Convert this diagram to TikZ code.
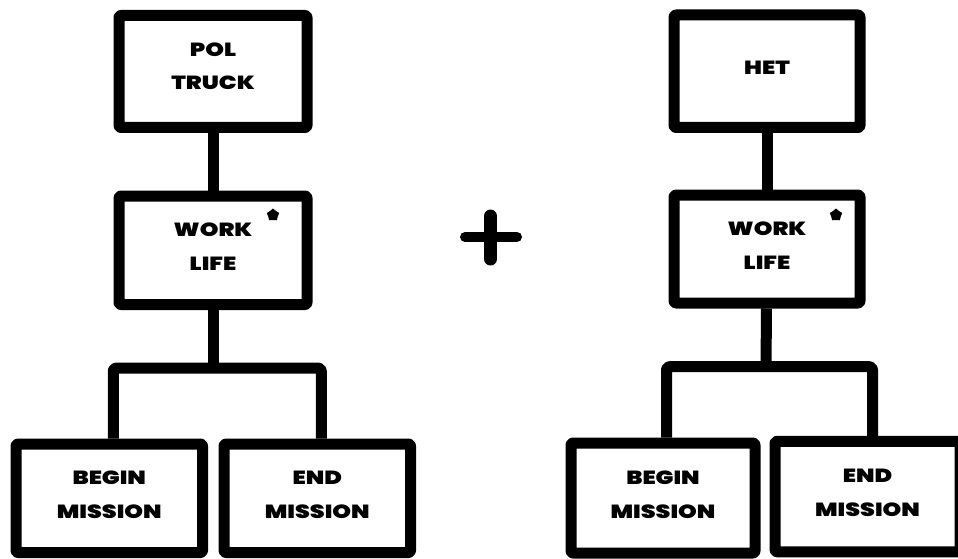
\documentclass[tikz,border=0pt]{standalone}
\usepackage{fontspec}
\usetikzlibrary{shapes.geometric}
\newfontfamily\boxfont[FakeStretch=1.25]{Poppins Black}
\begin{document}
\begin{tikzpicture}[x=1pt,y=-1pt,
  heavy/.style={line width=11pt,line join=round},
  blockbox/.style={heavy,draw,rectangle,rounded corners=2pt,align=center,
    font=\boxfont\fontsize{19}{34}\selectfont,inner sep=0pt,text depth=7pt},
  link/.style={heavy,rounded corners=3pt},
  starmark/.style={star,star points=5,star point ratio=1.3,fill,
    minimum size=13pt,inner sep=0pt}]
\useasboundingbox (0,0) rectangle (958,559);
\clip (0,0) rectangle (958,559);

% ---- left tree: POL truck ----
\node[blockbox,minimum width=188pt,minimum height=112pt,text depth=10pt] (pol) at (213,71.5) {POL\\[-1pt]TRUCK};
\node[blockbox,minimum width=188pt,minimum height=108.5pt] (wl1) at (213,250.25) {WORK\\LIFE};
\node[blockbox,minimum width=186.5pt,minimum height=108.5pt] (bm1) at (109.25,498.25) {BEGIN\\MISSION};
\node[blockbox,minimum width=186.5pt,minimum height=108.5pt] (em1) at (317.25,498.25) {END\\MISSION};
\node[starmark] (s1) at (273,215) {};
\coordinate (j1) at (213,368);
\draw[link] (pol) -- (wl1);
\draw[link] (wl1) -- (j1);
\draw[link] ([xshift=4pt]bm1.north) |- (j1) -| ([xshift=4pt]em1.north);

% ---- plus sign ----
\coordinate (pl) at (465,237);
\coordinate (pr) at (517,237);
\coordinate (pt) at (490.5,216);
\coordinate (pb) at (490.5,259);
\draw[line width=10pt,line cap=round] (pl) -- (pr);
\draw[line width=13pt,line cap=round] (pt) -- (pb);

% ---- right tree: HET ----
\node[blockbox,minimum width=186pt,minimum height=112.5pt] (het) at (767,71.25) {HET};
\node[blockbox,minimum width=186pt,minimum height=108pt] (wl2) at (767,249) {WORK\\LIFE};
\node[blockbox,minimum width=184pt,minimum height=110pt] (bm2) at (663,498) {BEGIN\\MISSION};
\node[blockbox,minimum width=185pt,minimum height=110.5pt] (em2) at (867.5,496.5) {END\\MISSION};
\node[starmark] (s2) at (836,215) {};
\coordinate (j2) at (766,366.7);
\draw[link] (het) -- (wl2);
\draw[link] (wl2) -- (j2);
\draw[link] ([xshift=3.5pt]bm2.north) |- (j2) -| ([xshift=5pt]em2.north);
\end{tikzpicture}
\end{document}
